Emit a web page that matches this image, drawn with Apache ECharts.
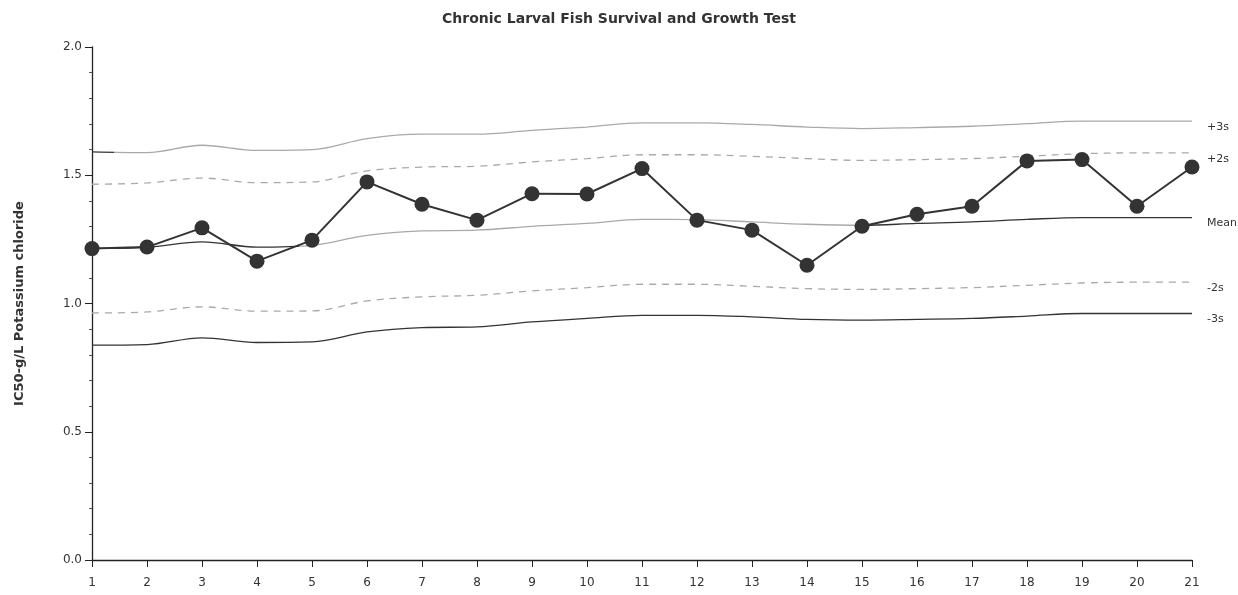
<!DOCTYPE html>
<html>
<head>
<meta charset="utf-8">
<title>Chronic Larval Fish Survival and Growth Test</title>
<script src="https://cdn.jsdelivr.net/npm/echarts@6/dist/echarts.min.js"></script>
<style>
  html, body { margin: 0; padding: 0; background: #ffffff; }
  #chart { width: 1238px; height: 595px; }
</style>
</head>
<body>
<div id="chart"></div>
<script>
// Test number along the x axis
const testNumbers = ['1','2','3','4','5','6','7','8','9','10','11','12','13','14','15','16','17','18','19','20','21'];

// IC50 results (g/L potassium chloride)
const ic50 = [1.214, 1.220, 1.295, 1.165, 1.247, 1.474, 1.387, 1.325, 1.428, 1.427, 1.526,
              1.325, 1.286, 1.149, 1.301, 1.348, 1.379, 1.556, 1.561, 1.379, 1.532];

// Running mean and control limits
const meanLine = [1.215, 1.219, 1.240, 1.220, 1.227, 1.266, 1.283, 1.286, 1.301, 1.312, 1.328,
                  1.327, 1.318, 1.309, 1.305, 1.312, 1.318, 1.328, 1.335, 1.335, 1.335];
const plus3s = [1.591, 1.588, 1.617, 1.597, 1.600, 1.643, 1.660, 1.660, 1.675, 1.688, 1.704,
                1.704, 1.698, 1.688, 1.682, 1.686, 1.691, 1.701, 1.711, 1.711, 1.711];
const plus2s = [1.465, 1.470, 1.489, 1.471, 1.474, 1.517, 1.532, 1.535, 1.552, 1.565, 1.580,
                1.580, 1.574, 1.565, 1.558, 1.561, 1.565, 1.574, 1.584, 1.587, 1.587];
const minus2s = [0.963, 0.967, 0.987, 0.970, 0.971, 1.010, 1.026, 1.032, 1.049, 1.062, 1.075,
                 1.075, 1.067, 1.058, 1.055, 1.058, 1.062, 1.071, 1.080, 1.083, 1.083];
const minus3s = [0.838, 0.840, 0.866, 0.848, 0.850, 0.889, 0.906, 0.909, 0.928, 0.942, 0.954,
                 0.954, 0.948, 0.938, 0.935, 0.938, 0.942, 0.951, 0.961, 0.961, 0.961];

// Y axis ticks
const yTicks = [0.0, 0.5, 1.0, 1.5, 2.0];

const FONT = 'DejaVu Sans';
const INK = '#333333';
const GREY = '#a9a9a9';

// Horizontal colour bands along a line, stops given as fractions of its width
function bands(stops) {
  const cs = [];
  stops.forEach(([from, to, color]) => {
    cs.push({ offset: from, color: color });
    cs.push({ offset: to, color: color });
  });
  return new echarts.graphic.LinearGradient(0, 0, 1, 0, cs);
}

function limitSeries(name, data, color, dashed, labelText) {
  return {
    name: name,
    type: 'line',
    data: data,
    smooth: 0.35,
    symbol: 'none',
    silent: true,
    lineStyle: { color: color, width: 1.3, type: dashed ? [7, 6] : 'solid' },
    endLabel: {
      show: true,
      formatter: labelText,
      color: INK,
      fontFamily: FONT,
      fontSize: 11,
      offset: [7, 6]
    },
    z: 2
  };
}

const chart = echarts.init(document.getElementById('chart'), null, { renderer: 'canvas' });

chart.setOption({
  backgroundColor: '#ffffff',
  animation: false,
  title: {
    text: 'Chronic Larval Fish Survival and Growth Test',
    left: 'center',
    top: 7,
    textStyle: { fontFamily: FONT, fontSize: 14, fontWeight: 'bold', color: INK }
  },
  grid: { left: 92, right: 46, top: 47, bottom: 35, containLabel: false },
  xAxis: {
    type: 'category',
    data: testNumbers,
    boundaryGap: false,
    axisLine: { show: true, lineStyle: { color: '#222', width: 1.3 } },
    axisTick: { show: true, alignWithLabel: true, length: 7, lineStyle: { color: '#222' } },
    axisLabel: { color: INK, fontFamily: FONT, fontSize: 12, margin: 17, interval: 0 },
    splitLine: { show: false }
  },
  yAxis: {
    type: 'value',
    min: yTicks[0],
    max: yTicks[yTicks.length - 1],
    interval: 0.5,
    name: 'IC50-g/L Potassium chloride',
    nameLocation: 'middle',
    nameGap: 66,
    nameRotate: 90,
    nameTextStyle: { fontFamily: FONT, fontSize: 13, fontWeight: 'bold', color: INK },
    axisLine: { show: true, lineStyle: { color: '#222', width: 1.3 } },
    axisTick: { show: true, length: 7, lineStyle: { color: '#222' } },
    minorTick: { show: true, splitNumber: 5, length: 3, lineStyle: { color: '#555' } },
    axisLabel: {
      color: INK, fontFamily: FONT, fontSize: 12, margin: 10,
      formatter: v => v.toFixed(1)
    },
    splitLine: { show: false }
  },
  series: [
    limitSeries('+3s', plus3s, bands([[0, 0.022, INK], [0.022, 1, GREY]]), false, '+3s'),
    limitSeries('+2s', plus2s, GREY, true, '+2s'),
    limitSeries('Mean', meanLine, bands([[0, 0.19, INK], [0.19, 0.70, GREY], [0.70, 1, INK]]), false, 'Mean'),
    limitSeries('-2s', minus2s, GREY, true, '-2s'),
    limitSeries('-3s', minus3s, INK, false, '-3s'),
    {
      name: 'IC50',
      type: 'line',
      data: ic50,
      symbol: 'circle',
      symbolSize: 15,
      itemStyle: { color: INK },
      lineStyle: { color: INK, width: 2 },
      z: 5
    }
  ]
});
</script>
</body>
</html>
